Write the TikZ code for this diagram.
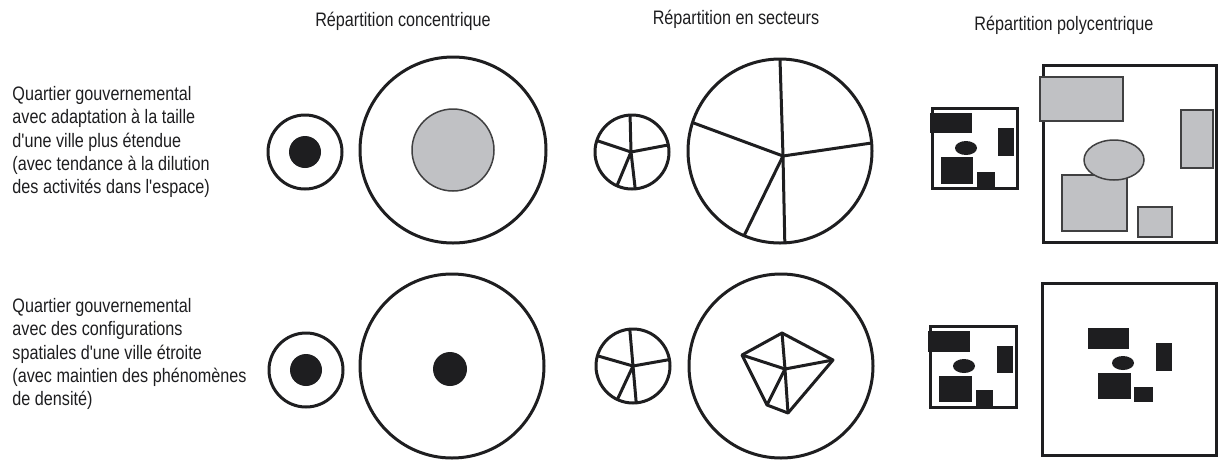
\documentclass[tikz,border=0pt]{standalone}
\usepackage{fontspec}
\setmainfont[FakeStretch=0.83,Ligatures=TeXOff]{Liberation Sans}
\definecolor{zonegray}{RGB}{192,193,196}
\definecolor{inkblack}{RGB}{30,30,32}

\begin{document}
\begin{tikzpicture}[x=1pt,y=-1pt,line width=3pt,draw=inkblack,
  lbl/.style={font=\fontsize{19.5}{23.3}\selectfont,text=inkblack,inner sep=0pt},
  grayzone/.style={fill=zonegray,draw=inkblack!85,line width=1.5pt},
  ink/.style={fill=inkblack}]
\useasboundingbox (0,0) rectangle (1219,459);

% column titles
\node[lbl,anchor=base] (hconc) at (403,26) {Répartition concentrique};
\node[lbl,anchor=base] (hsect) at (736,24) {Répartition en secteurs};
\node[lbl,anchor=base] (hpoly) at (1064,30) {Répartition polycentrique};

% row titles
\node[lbl,align=left,anchor=north west] (rowa) at (11,85)
  {Quartier gouvernemental\\avec adaptation à la taille\\d'une ville plus étendue\\(avec tendance à la dilution\\des activités dans l'espace)};
\node[lbl,align=left,anchor=north west] (rowb) at (11,297)
  {Quartier gouvernemental\\avec des configurations\\spatiales d'une ville étroite\\(avec maintien des phénomènes\\de densité)};

% concentric
\draw (305,152) circle[radius=37];
\fill[ink] (305,152) circle[radius=16];
\draw (453,150) circle[radius=93];
\draw[grayzone] (453,150) circle[radius=41];
\draw (306,370) circle[radius=37];
\fill[ink] (306,370) circle[radius=16];
\draw (452,366) circle[radius=92];
\fill[ink] (450,369) circle[radius=17];

% sectors
\draw (632,152) circle[radius=37];
\foreach \a in {-93,-11,85,114,-162} \draw (632,152) ++(\a:37) -- (631,152);
\draw (780,151) circle[radius=92];
\foreach \a in {-90,-5,87,113,-162} \draw (780,151) ++(\a:92) -- (783,156);
\draw (633,366) circle[radius=37];
\foreach \a in {-95,-10,85,115,-164} \draw (633,366) ++(\a:37) -- (633,366);
\draw (781,366) circle[radius=92];
\coordinate (hub) at (785,369);
\coordinate (pt) at (782,333);
\coordinate (pr) at (833,360);
\coordinate (pb) at (788,413);
\coordinate (pbl) at (767,405);
\coordinate (pl) at (742,355);
\draw[line join=round] (pt) -- (pr) -- (pb) -- (pbl) -- (pl) -- cycle;
\foreach \v in {pt,pr,pb,pbl,pl} \draw (hub) -- (\v);

% polycentric, top row
\draw (932,108) rectangle (1017,188);
\fill[ink] (930,113) rectangle (972,133);
\fill[ink] (998,128) rectangle (1014,156);
\fill[ink] (966,148) ellipse[x radius=11,y radius=7];
\fill[ink] (941,157) rectangle (973,184);
\fill[ink] (977,172) rectangle (995,188);
\draw (1043,65) rectangle (1216,242);
\draw[grayzone] (1040,77) rectangle (1123,121);
\draw[grayzone] (1181,110) rectangle (1213,168);
\draw[grayzone] (1062,175) rectangle (1127,231);
\draw[grayzone] (1114,160) ellipse[x radius=30,y radius=20];
\draw[grayzone] (1138,207) rectangle (1172,237);

% polycentric, bottom row
\draw (930,326) rectangle (1016,407);
\fill[ink] (928,331) rectangle (970,352);
\fill[ink] (997,346) rectangle (1013,373);
\fill[ink] (964,366) ellipse[x radius=11,y radius=7];
\fill[ink] (939,376) rectangle (972,402);
\fill[ink] (976,390) rectangle (993,407);
\draw (1042,283) rectangle (1216,455);
\fill[ink] (1088,328) rectangle (1129,349);
\fill[ink] (1156,343) rectangle (1172,371);
\fill[ink] (1123,363) ellipse[x radius=11,y radius=7];
\fill[ink] (1098,373) rectangle (1131,399);
\fill[ink] (1134,387) rectangle (1153,402);
\end{tikzpicture}
\end{document}
